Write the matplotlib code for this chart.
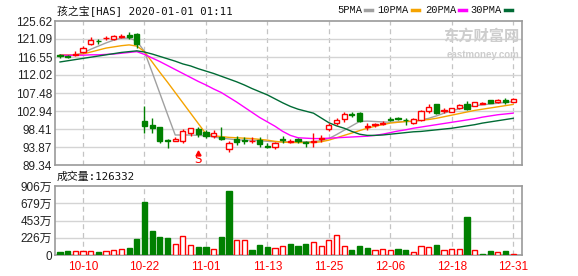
import numpy as np
import matplotlib.pyplot as plt
from matplotlib.lines import Line2D

# ---------------------------------------------------------------
# data (HAS daily candles, 2019-10-07 .. 2019-12-31)
# ---------------------------------------------------------------
dates = ["10-07", "10-08", "10-09", "10-10", "10-11", "10-14", "10-15", "10-16", "10-17", "10-18",
         "10-21", "10-22", "10-23", "10-24", "10-25", "10-28", "10-29", "10-30", "10-31", "11-01",
         "11-04", "11-05", "11-06", "11-07", "11-08", "11-11", "11-12", "11-13", "11-14", "11-15",
         "11-18", "11-19", "11-20", "11-21", "11-22", "11-25", "11-26", "11-27", "11-29", "12-02",
         "12-03", "12-04", "12-05", "12-06", "12-09", "12-10", "12-11", "12-12", "12-13", "12-16",
         "12-17", "12-18", "12-19", "12-20", "12-23", "12-24", "12-26", "12-27", "12-30", "12-31"]

opens = [117.0, 116.9, 117.1, 117.7, 119.9, 120.6, 121.3, 121.2, 121.7, 122.2,
         122.4, 100.3, 99.4, 98.9, 95.6, 95.5, 95.5, 97.5, 98.4, 97.7,
         96.6, 96.3, 93.3, 96.0, 95.7, 95.3, 95.6, 94.2, 93.9, 95.9,
         95.1, 95.9, 95.1, 95.1, 96.0, 98.4, 99.9, 100.9, 102.2, 102.4,
         98.9, 99.3, 99.7, 101.0, 101.2, 100.8, 99.9, 100.7, 103.0, 104.6,
         102.9, 102.8, 103.8, 104.6, 104.3, 104.8, 105.7, 105.1, 105.7, 105.3]
highs = [117.4, 117.1, 118.1, 119.2, 121.5, 121.2, 121.9, 122.2, 122.3, 122.9,
         122.6, 104.2, 101.1, 98.9, 95.8, 96.3, 98.3, 98.7, 98.9, 98.1,
         98.2, 99.0, 95.4, 96.6, 96.4, 96.3, 96.3, 94.8, 95.2, 96.6,
         95.8, 96.1, 95.3, 97.5, 96.8, 99.9, 101.3, 102.6, 102.8, 102.8,
         99.9, 100.0, 100.3, 101.5, 101.5, 101.1, 101.2, 103.3, 104.7, 104.8,
         103.6, 103.8, 104.8, 105.4, 105.3, 105.2, 105.8, 105.9, 106.2, 106.2]
lows = [116.2, 116.3, 116.9, 117.5, 119.6, 119.8, 120.9, 120.8, 121.3, 121.2,
        118.9, 97.4, 97.5, 95.0, 93.6, 95.4, 94.8, 96.6, 96.5, 96.1,
        96.1, 95.7, 92.6, 94.5, 94.6, 95.0, 94.0, 93.5, 93.4, 95.0,
        94.8, 95.0, 93.9, 94.0, 95.1, 98.0, 99.3, 100.2, 101.5, 100.2,
        98.2, 99.0, 99.3, 100.4, 100.6, 99.4, 99.7, 100.4, 102.5, 102.2,
        102.4, 102.6, 103.5, 103.2, 104.1, 104.6, 104.9, 104.9, 104.6, 105.1]
closes = [116.7, 116.6, 117.3, 118.8, 120.9, 120.5, 121.4, 121.8, 121.8, 121.6,
          119.9, 99.1, 98.7, 95.5, 95.4, 96.0, 97.8, 98.6, 97.2, 96.6,
          97.5, 96.0, 94.9, 95.2, 95.5, 95.4, 94.7, 94.0, 95.0, 95.6,
          95.5, 95.4, 95.0, 95.3, 96.2, 99.3, 100.7, 102.1, 102.0, 100.5,
          99.1, 99.6, 99.8, 100.8, 101.0, 100.6, 100.9, 103.0, 104.0, 102.4,
          103.1, 103.6, 104.5, 103.4, 105.1, 104.9, 105.0, 105.7, 105.3, 106.0]

ma5 = [116.7, 116.8, 117.0, 117.6, 118.5, 119.3, 120.1, 120.8, 121.3, 121.3,
       120.6, 117.9, 112.7, 107.4, 102.1, 96.9, 96.9, 96.9, 96.8, 96.7,
       96.4, 96.1, 95.9, 95.7, 95.6, 95.6, 95.5, 95.3, 95.2, 95.2,
       95.2, 95.2, 95.2, 95.2, 95.5, 96.0, 97.0, 98.1, 99.2, 100.3,
       100.4, 100.3, 100.2, 100.1, 100.2, 100.3, 100.3, 100.7, 101.1, 101.7,
       102.4, 103.0, 103.5, 104.0, 104.3, 104.5, 104.7, 104.9, 105.1, 105.3]
ma10 = [117.1, 117.1, 117.1, 117.3, 117.8, 118.3, 118.8, 119.1, 119.4, 119.6,
        119.3, 117.9, 115.3, 112.7, 110.2, 107.6, 105.0, 102.4, 99.8, 97.2,
        96.7, 96.5, 96.3, 96.2, 96.1, 96.0, 95.8, 95.6, 95.3, 95.1,
        95.0, 95.0, 95.0, 95.0, 95.2, 95.6, 96.2, 96.8, 97.4, 98.0,
        98.6, 99.1, 99.5, 99.9, 100.1, 100.3, 100.4, 100.6, 100.8, 101.1,
        101.5, 101.9, 102.3, 102.7, 103.1, 103.4, 103.7, 104.0, 104.3, 104.6]
ma20 = [117.0, 117.0, 117.0, 117.0, 117.1, 117.1, 117.2, 117.3, 117.5, 117.7,
        117.9, 117.2, 116.3, 115.4, 114.4, 113.4, 112.4, 111.4, 110.4, 109.5,
        108.5, 107.6, 106.4, 105.2, 103.9, 102.6, 101.3, 100.2, 99.1, 97.8,
        96.8, 96.2, 96.1, 96.0, 96.0, 96.1, 96.2, 96.3, 96.4, 96.5,
        96.6, 96.8, 97.1, 97.5, 97.9, 98.2, 98.6, 98.9, 99.2, 99.5,
        99.8, 100.1, 100.4, 100.7, 101.0, 101.4, 101.7, 102.0, 102.2, 102.4]
ma30 = [115.3, 115.6, 115.9, 116.2, 116.5, 116.8, 117.1, 117.4, 117.7, 117.9,
        118.1, 117.8, 117.3, 116.7, 116.1, 115.5, 114.8, 114.3, 113.6, 113.0,
        112.4, 111.7, 111.0, 110.3, 109.5, 108.6, 107.8, 107.0, 106.0, 105.0,
        104.1, 103.4, 102.9, 102.4, 101.2, 100.0, 99.2, 98.6, 97.8, 97.1,
        96.8, 96.8, 96.9, 97.1, 97.3, 97.5, 97.7, 97.8, 98.0, 98.2,
        98.4, 98.6, 98.9, 99.2, 99.5, 99.9, 100.2, 100.5, 100.8, 101.1]

# volume in 万 shares, colour = close vs previous close
volume = [39, 52, 48, 48, 48, 39, 48, 61, 79, 96,
          210, 696, 315, 236, 223, 140, 245, 127, 105, 105,
          79, 236, 840, 197, 197, 70, 131, 105, 92, 114,
          144, 118, 144, 166, 118, 197, 258, 114, 66, 118,
          92, 66, 79, 66, 79, 66, 35, 114, 105, 131,
          66, 79, 79, 499, 61, 13, 52, 35, 52, 13]
vol_dir = list("ggrrrgrrrggggggrrrggrggrrgggrrgggrrrrrgggrrrggrrrgrrrgrggrgr")

price_ticks = [89.34, 93.87, 98.41, 102.94, 107.48, 112.02, 116.55, 121.09, 125.62]
vol_ticks = [0, 226, 453, 679, 906]
date_ticks = ["10-10", "10-22", "11-01", "11-13", "11-25", "12-06", "12-18", "12-31"]

RED = "#ff0000"
GREEN = "#008000"
GRID = "#d4d4d4"
FRAME = "#9a9a9a"
HEAD_FONT = ["DejaVu Sans Mono", "Noto Sans CJK SC"]

plt.rcParams['font.family'] = ['Liberation Sans', 'Noto Sans CJK SC', 'DejaVu Sans']

fig = plt.figure(figsize=(5.78, 2.76), dpi=100)
ax = fig.add_axes([55 / 578, 1 - 165 / 276, 467 / 578, 144 / 276])
axv = fig.add_axes([55 / 578, 1 - 255 / 276, 467 / 578, 69 / 276])

x = np.arange(len(dates))
o, h, l, c = map(np.array, (opens, highs, lows, closes))
up = c >= o
xt = [dates.index(d) for d in date_ticks]

for a in (ax, axv):
    a.set_xlim(-0.65, 60.15)
    for s in a.spines.values():
        s.set_color(FRAME)
        s.set_linewidth(1.2)
    a.tick_params(length=0, labelsize=8.5, colors="#222222", pad=2)
    for xi in xt:
        a.axvline(xi, color="#c4c4c4", lw=0.9, ls=(0, (4, 3)), zorder=0)

# ---- price panel ----
ax.set_ylim(price_ticks[0], price_ticks[-1])
ax.set_yticks(price_ticks)
ax.set_yticklabels([f"{t:.2f}" for t in price_ticks])
for t in price_ticks[1:-1]:
    ax.axhline(t, color=GRID, lw=1.0, zorder=0)
ax.set_xticks([])

col = np.where(up, RED, GREEN)
ax.vlines(x, l, h, colors=col, lw=1.0, zorder=3)
body = np.maximum(np.abs(c - o), 0.08)
ax.bar(x, body, bottom=np.minimum(o, c), width=0.68,
       color=np.where(up, "white", GREEN), edgecolor=col, linewidth=1.0, zorder=4)

ma_cols = ["#a0a0a0", "#f5a300", "#ff00ff", "#006b35"]
for ma, mc in zip((ma5, ma10, ma20, ma30), ma_cols):
    ax.plot(x, ma, color=mc, lw=1.0, zorder=2)

# sell marker under 10-31
ax.plot(18, 92.35, marker="^", color=RED, markersize=3.5, zorder=5)
ax.text(18, 90.6, "S", color=RED, fontsize=8.5, ha="center", va="center",
        family="DejaVu Sans", zorder=5)

# watermark
ax.text(0.995, 0.955, "东方财富网", transform=ax.transAxes, ha="right", va="top",
        fontsize=11, color="#cdcdcd", weight="bold", family="Noto Sans CJK SC", zorder=1)
ax.text(0.995, 0.80, "eastmoney.com", transform=ax.transAxes, ha="right", va="top",
        fontsize=7, color="#cdcdcd", weight="bold", zorder=1)

# ---- volume panel ----
axv.set_ylim(0, vol_ticks[-1])
axv.set_yticks(vol_ticks)
axv.set_yticklabels(["0"] + [f"{v}万" for v in vol_ticks[1:]])
for t in vol_ticks[1:-1]:
    axv.axhline(t, color=GRID, lw=1.0, zorder=0)
vup = np.array([d == "r" for d in vol_dir])
axv.bar(x, volume, width=0.68, color=np.where(vup, "white", GREEN),
        edgecolor=np.where(vup, RED, GREEN), linewidth=1.0, zorder=3)
axv.set_xticks(xt)
axv.set_xticklabels(date_ticks, color=RED, fontsize=8.5)
axv.tick_params(axis="x", pad=4)

# ---- header texts ----
fig.text(57 / 578, 1 - 11 / 276, "孩之宝[HAS] 2020-01-01 01:11", fontsize=7.8,
         va="center", ha="left", family=HEAD_FONT, color="#111111")
fig.text(57 / 578, 1 - 177 / 276, "成交量:126332", fontsize=7.8,
         va="center", ha="left", family=HEAD_FONT, color="#111111")

# legend: label text ending just before a short coloured dash
legend_items = [("5PMA", 365, ma_cols[0]), ("10PMA", 412, ma_cols[1]),
                ("20PMA", 459, ma_cols[2]), ("30PMA", 505, ma_cols[3])]
for label, px, mc in legend_items:
    fig.text((px - 3) / 578, 1 - 10 / 276, label, fontsize=7.5, va="center", ha="right",
             family=["Liberation Mono", "DejaVu Sans Mono"], color="#111111")
    fig.add_artist(Line2D([px / 578, (px + 7) / 578], [1 - 10 / 276] * 2, color=mc, lw=2.5))

fig.savefig("out.png", dpi=100)
